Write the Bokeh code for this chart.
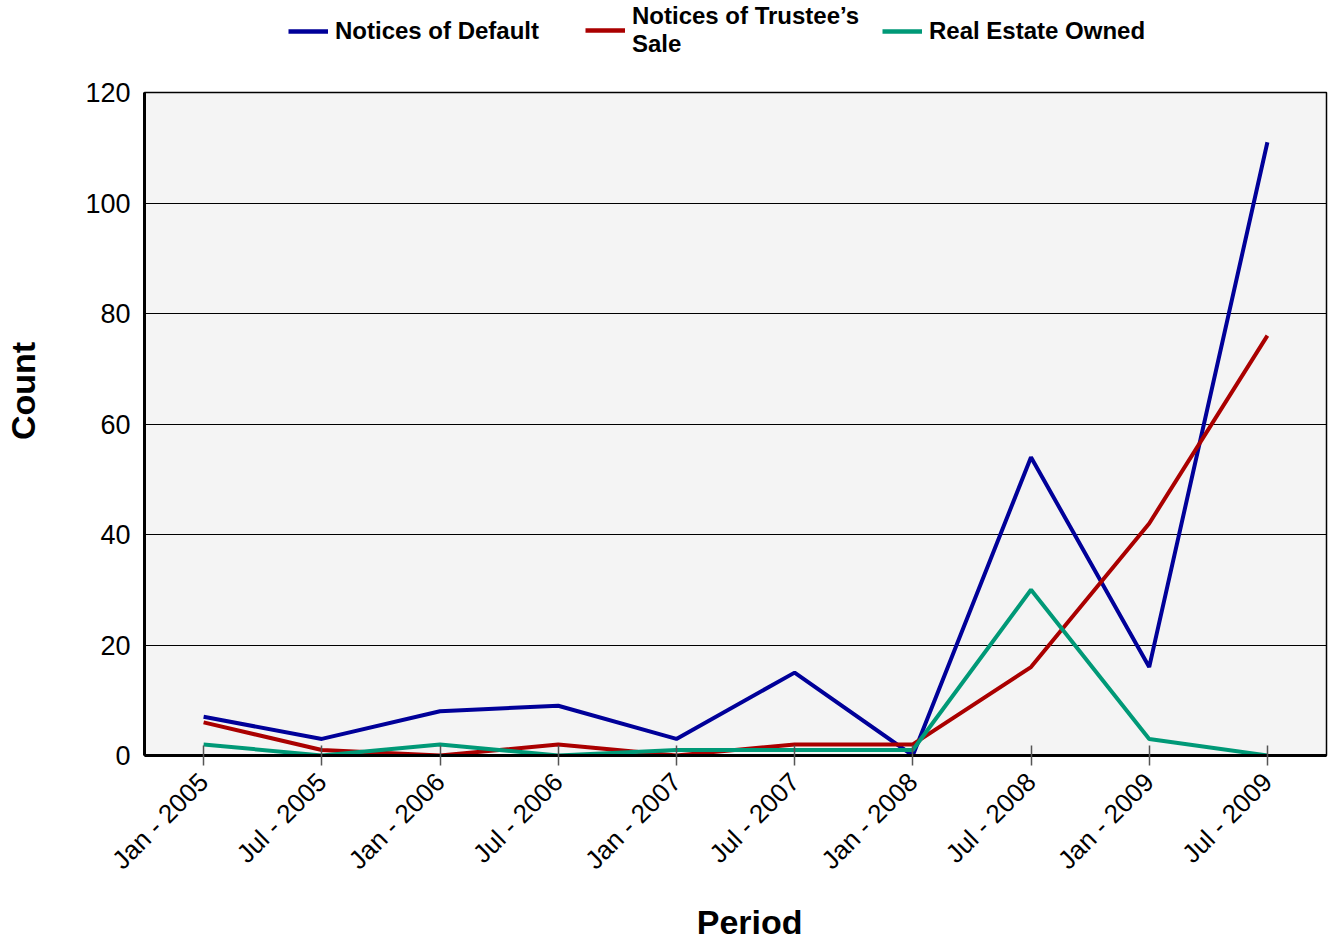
import math
from bokeh.plotting import figure
from bokeh.layouts import column
from bokeh.models import FactorRange, Range1d, Legend, LegendItem, FixedTicker
from bokeh.embed import file_html
from bokeh.resources import INLINE

periods = ["Jan - 2005", "Jul - 2005", "Jan - 2006", "Jul - 2006", "Jan - 2007",
           "Jul - 2007", "Jan - 2008", "Jul - 2008", "Jan - 2009", "Jul - 2009"]
notices_default = [7, 3, 8, 9, 3, 15, 0, 54, 16, 111]
notices_trustee = [6, 1, 0, 2, 0, 2, 2, 16, 42, 76]
reo = [2, 0, 2, 0, 1, 1, 1, 30, 3, 0]

series_names = ["Notices of Default", "Notices of Trustee\u2019s\nSale", "Real Estate Owned"]
series_colors = ["#000099", "#aa0000", "#009977"]
legend_x = [288, 585, 882]

FONT = "Liberation Sans"
NB = "\u00a0"

# ---- legend strip above the chart ----
lf = figure(frame_width=1333, frame_height=75, output_backend="svg", toolbar_location=None,
            x_range=Range1d(0, 1), y_range=Range1d(0, 1),
            min_border_left=0, min_border_right=0, min_border_top=0, min_border_bottom=0)
lf.axis.visible = False
lf.grid.visible = False
lf.outline_line_color = None
lf.background_fill_color = "white"
lf.border_fill_color = "white"

# ---- main chart ----
p = figure(frame_width=1182, frame_height=663, output_backend="svg", toolbar_location=None,
           x_range=FactorRange(*periods, range_padding=0), y_range=Range1d(0, 120),
           min_border_left=144, min_border_right=7, min_border_top=17, min_border_bottom=185)

p.border_fill_color = "white"
p.background_fill_color = "#f4f4f4"
p.outline_line_color = "black"
p.outline_line_width = 1.5

for name, vals, col, lx in zip(series_names, [notices_default, notices_trustee, reo],
                               series_colors, legend_x):
    p.line(periods, vals, line_color=col, line_width=4)
    # proxy renderer (outside the strip's visible range) for the legend glyph
    lr = lf.line([5, 6], [5, 6], line_color=col, line_width=4.5)
    lg = Legend(items=[LegendItem(label=name, renderers=[lr])], location=(lx, 17),
                label_text_font=FONT, label_text_font_style="bold", label_text_font_size="24px",
                label_text_color="black", glyph_width=40, label_standoff=7, label_height=54,
                border_line_color=None, background_fill_alpha=0, padding=0, margin=0)
    lf.add_layout(lg, "center")

p.xgrid.grid_line_color = None
p.ygrid.grid_line_color = "black"
p.ygrid.grid_line_width = 1
p.yaxis.ticker = FixedTicker(ticks=[0, 20, 40, 60, 80, 100, 120])

p.yaxis.axis_label = NB * 7 + "Count"
p.yaxis.axis_label_text_font = FONT
p.yaxis.axis_label_text_font_style = "bold"
p.yaxis.axis_label_text_font_size = "34px"
p.yaxis.axis_label_text_color = "black"
p.yaxis.axis_label_standoff = 40
p.yaxis.major_label_text_font = FONT
p.yaxis.major_label_text_font_size = "27px"
p.yaxis.major_label_text_color = "black"
p.yaxis.axis_line_color = "black"
p.yaxis.axis_line_width = 3
p.yaxis.major_tick_line_color = None
p.yaxis.minor_tick_line_color = None
p.yaxis.major_label_standoff = 8

p.xaxis.axis_label = NB * 3 + "Period"
p.xaxis.axis_label_text_font = FONT
p.xaxis.axis_label_text_font_style = "bold"
p.xaxis.axis_label_text_font_size = "34px"
p.xaxis.axis_label_text_color = "black"
p.xaxis.axis_label_standoff = 14
p.xaxis.major_label_text_font = FONT
p.xaxis.major_label_text_font_size = "26px"
p.xaxis.major_label_text_color = "black"
p.xaxis.major_label_orientation = math.pi / 4
p.xaxis.axis_line_color = "black"
p.xaxis.axis_line_width = 3
p.xaxis.major_tick_line_color = "#555555"
p.xaxis.major_tick_line_width = 1.5
p.xaxis.major_tick_in = 10
p.xaxis.major_tick_out = 10
p.xaxis.major_label_standoff = 12

layout = column(lf, p, spacing=0)
open("out.html", "w").write(file_html(layout, INLINE))
